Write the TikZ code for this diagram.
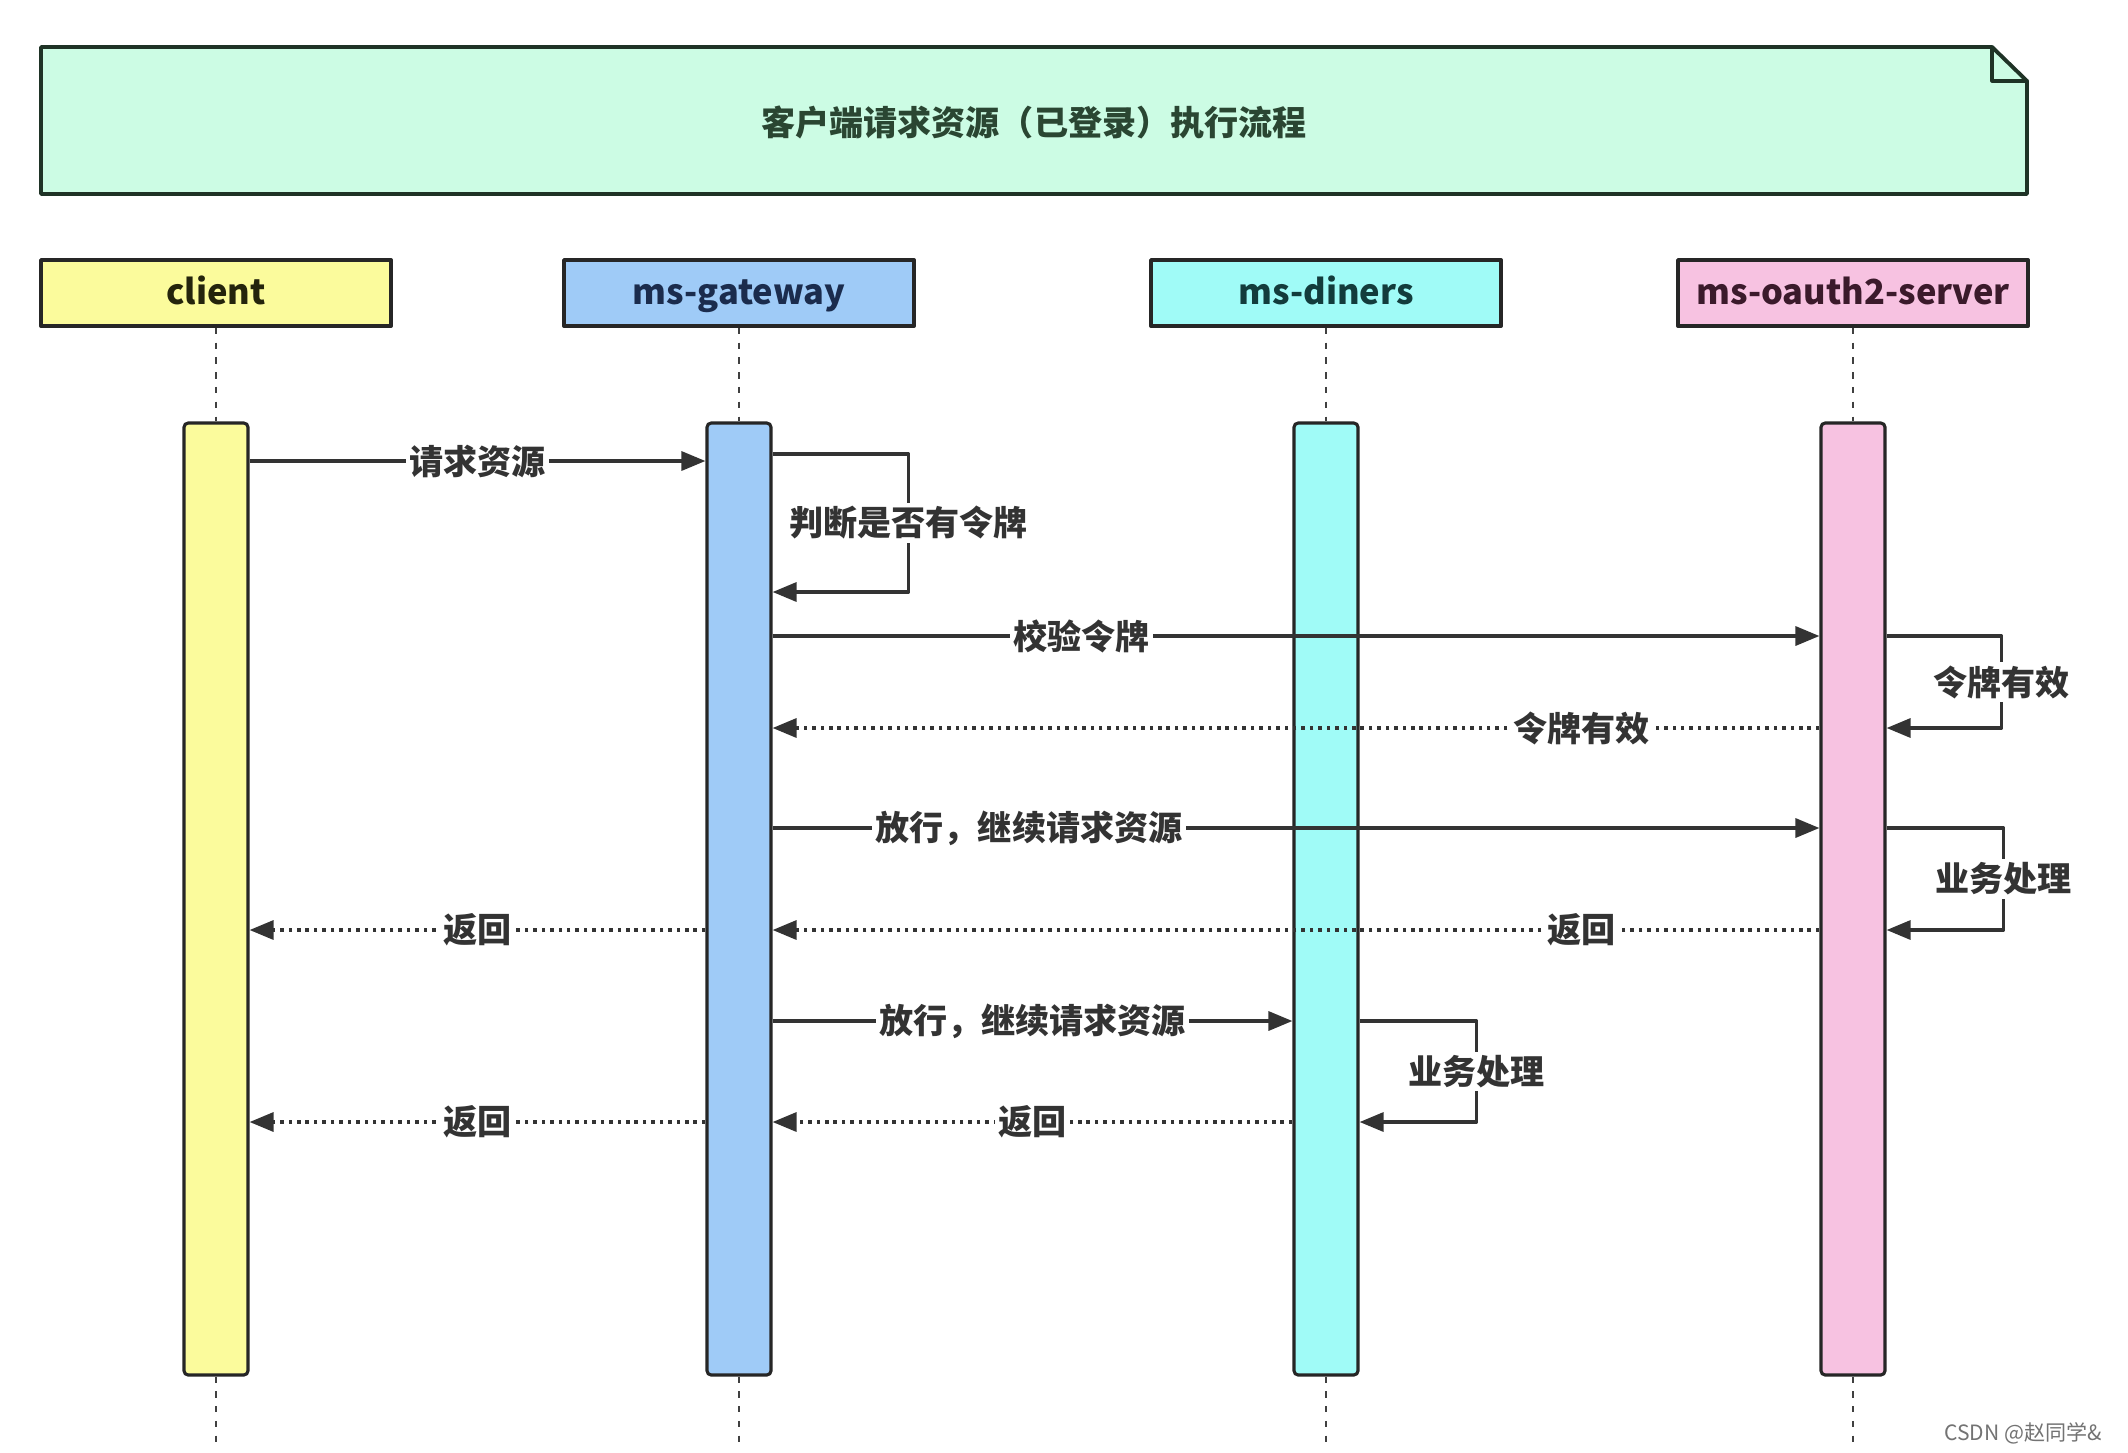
\documentclass[tikz,border=0pt]{standalone}
\usepackage{fontspec}
\setmainfont{Noto Sans CJK SC}
\usetikzlibrary{arrows.meta}
\definecolor{notefill}{HTML}{CCFCE4}
\definecolor{notedraw}{HTML}{1F3326}
\definecolor{notetext}{HTML}{2A4632}
\definecolor{clfill}{HTML}{FBFB9C}
\definecolor{gwfill}{HTML}{9FCBF7}
\definecolor{dnfill}{HTML}{A0FBF7}
\definecolor{aufill}{HTML}{F7C2E1}
\definecolor{cltext}{HTML}{24240C}
\definecolor{gwtext}{HTML}{1B2C4D}
\definecolor{dntext}{HTML}{133C3C}
\definecolor{autext}{HTML}{3B1A2B}
\tikzset{
  head/.style={draw=black!85, line width=1.1pt, minimum width=3.5cm, minimum height=0.66cm,
    inner sep=0pt, text height=0.85em, text depth=0.2em, font=\bfseries\fontsize{9.8}{11}\selectfont},
  bar/.style={draw=black!85, line width=0.9pt, rounded corners=1.2pt,
    minimum width=0.64cm, minimum height=9.52cm, inner sep=0pt},
  life/.style={draw=black!75, line width=0.75pt, dash pattern=on 1.8pt off 2.4pt},
  msg/.style={draw=black!80, line width=0.95pt, ->},
  ret/.style={msg, dash pattern=on 1pt off 1.4pt},
  lbl/.style={fill=white, inner sep=1pt, text=black!80, font=\bfseries\fontsize{9.7}{11}\selectfont},
}
\begin{document}
\begin{tikzpicture}[x=1cm, y=-1cm, line join=round, >={Triangle[length=0.24cm,width=0.19cm]}]
  \useasboundingbox[fill=white] (0,0) rectangle (21.28,14.52);
  % title note
  \draw[line width=1.1pt, draw=notedraw, fill=notefill] (0.41,0.47) -- (19.92,0.47) -- (20.27,0.81)
    -- (20.27,1.94) -- (0.41,1.94) -- cycle;
  \draw[line width=0.9pt, draw=notedraw] (19.92,0.47) -- (19.92,0.81) -- (20.27,0.81);
  \node[text=notetext, font=\bfseries\fontsize{9.7}{11}\selectfont] (title) at (10.34,1.22)
    {客户端请求资源（已登录）执行流程};
  % participants
  \foreach \n/\x/\c/\t in {cl/2.16/cl/client, gw/7.39/gw/ms-gateway, dn/13.26/dn/ms-diners, au/18.53/au/ms-oauth2-server}{
    \node[head, fill=\c fill, text=\c text] (\n) at (\x,2.93) {\t};
    \node[bar, fill=\c fill] (\n-bar) at (\x,8.99) {};
    \draw[life] (\n.south) -- (\n-bar.north);
    \draw[life] (\n-bar.south) -- ++(0,0.70);
  }
  % message rows
  \coordinate (r1) at (0,4.61);
  \coordinate (r2) at (0,4.54);
  \coordinate (r3) at (0,5.92);
  \coordinate (r4) at (0,6.36);
  \coordinate (r5) at (0,7.28);
  \coordinate (r6) at (0,8.28);
  \coordinate (r7) at (0,9.30);
  \coordinate (r8) at (0,10.21);
  \coordinate (r9) at (0,11.22);
  % messages
  \draw[msg] (cl-bar.east |- r1) -- node[lbl]{请求资源} (gw-bar.west |- r1);
  \draw[msg] (gw-bar.east |- r2) -- ++(1.36,0) |- node[lbl, pos=0.25]{判断是否有令牌} (gw-bar.east |- r3);
  \draw[msg] (gw-bar.east |- r4) -- node[lbl, pos=0.295]{校验令牌} (au-bar.west |- r4);
  \draw[msg] (au-bar.east |- r4) -- ++(1.15,0) |- node[lbl, pos=0.25]{令牌有效} (au-bar.east |- r5);
  \draw[ret] (au-bar.west |- r5) -- node[lbl, pos=0.227]{令牌有效} (gw-bar.east |- r5);
  \draw[msg] (gw-bar.east |- r6) -- node[lbl, pos=0.245]{放行，继续请求资源} (au-bar.west |- r6);
  \draw[msg] (au-bar.east |- r6) -- ++(1.17,0) |- node[lbl, pos=0.25]{业务处理} (au-bar.east |- r7);
  \draw[ret] (au-bar.west |- r7) -- node[lbl, pos=0.227]{返回} (gw-bar.east |- r7);
  \draw[ret] (gw-bar.west |- r7) -- node[lbl]{返回} (cl-bar.east |- r7);
  \draw[msg] (gw-bar.east |- r8) -- node[lbl]{放行，继续请求资源} (dn-bar.west |- r8);
  \draw[msg] (dn-bar.east |- r8) -- ++(1.17,0) |- node[lbl, pos=0.25]{业务处理} (dn-bar.east |- r9);
  \draw[ret] (dn-bar.west |- r9) -- node[lbl]{返回} (gw-bar.east |- r9);
  \draw[ret] (gw-bar.west |- r9) -- node[lbl]{返回} (cl-bar.east |- r9);
  % watermark
  \node[anchor=east, text=black!55, font=\fontsize{6}{7}\selectfont] (mark) at (21.14,14.33) {CSDN @赵同学\&};
\end{tikzpicture}
\end{document}
